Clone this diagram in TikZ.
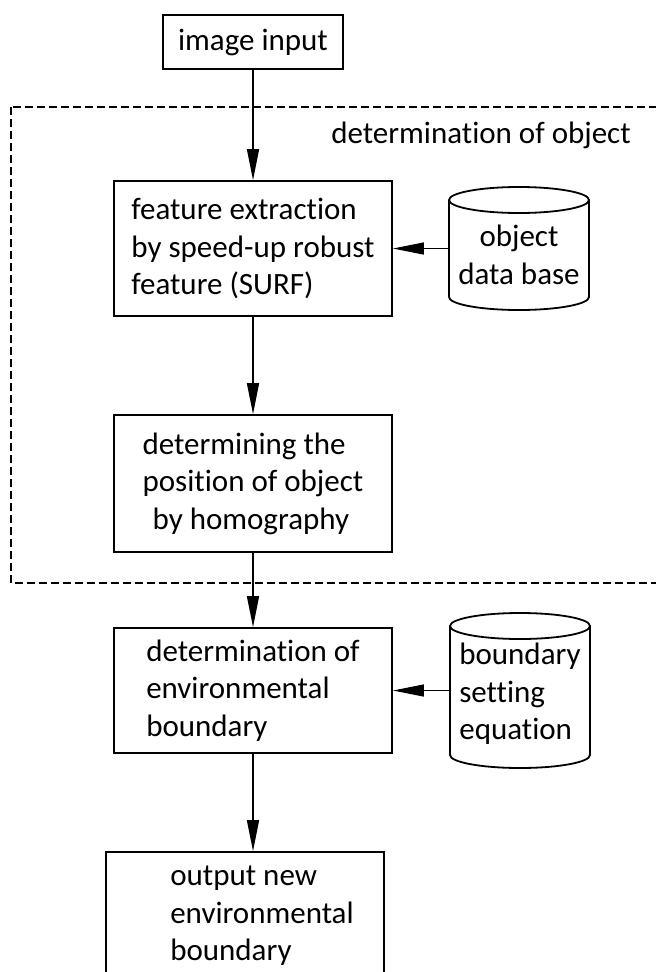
\documentclass[tikz,border=0pt]{standalone}
\usepackage{fontspec}
\setmainfont{Carlito}[Ligatures={NoCommon,NoRare,NoContextual}]
\usetikzlibrary{arrows.meta}
\begin{document}
\begin{tikzpicture}[x=1pt,y=-1pt,
  box/.style={draw,line width=1.8pt,inner sep=0pt},
  txt/.style={font=\fontsize{31}{37.5}\selectfont,align=left,inner sep=0pt},
  arr/.style={line width=1.3pt,-{Triangle[length=31pt,width=12pt]}},
  grp/.style={line width=1.5pt,dash pattern=on 8pt off 4pt},
  cyl/.style={line width=1.8pt}]
\path[use as bounding box,clip] (0,0) rectangle (656,972);
\fill[white] (0,0) rectangle (656,972);
% dashed group
\draw[grp] (11,107) rectangle (680,583);
\node[txt,anchor=base east] (grplabel) at (631,143) {determination of object};
% boxes
\node[box,minimum width=180pt,minimum height=54pt,txt] (img) at (253,42) {image input};
\node[box,minimum width=278pt,minimum height=135pt,txt] (feat) at (253,248.5)
  {feature extraction\\by speed-up robust\\feature (SURF)};
\node[box,minimum width=278pt,minimum height=137pt,txt] (pos) at (253,483.5)
  {determining the\\position of object\\\hspace*{10pt}by homography};
\node[box,minimum width=278pt,minimum height=125pt,txt] (env) at (253,690.5)
  {determination of\\environmental\\boundary};
\node[box,minimum width=278pt,minimum height=150pt] (out) at (245,927) {};
\node[txt] (outtxt) at (262,916) {output new\\environmental\\boundary};
% databases
\node[txt,align=center,minimum width=140pt,minimum height=100pt] (db1) at (519,255)
  {object\\data base};
\draw[cyl] (449,200) -- (449,297) arc[start angle=180,end angle=360,x radius=70pt,y radius=13pt] -- (589,200);
\draw[cyl] (519,200) ellipse[x radius=70pt,y radius=13pt];
\node[txt,minimum width=140pt,minimum height=120pt] (db2) at (520,694)
  {boundary\\setting\\equation};
\draw[cyl] (450,626) -- (450,755) arc[start angle=180,end angle=360,x radius=70pt,y radius=13pt] -- (590,626);
\draw[cyl] (520,626) ellipse[x radius=70pt,y radius=13pt];
% connectors
\draw[arr] (img.south) -- (feat.north);
\draw[arr] (db1.west |- feat.east) -- (feat.east);
\draw[arr] (feat.south) -- (pos.north);
\draw[arr] (pos.south) -- (env.north);
\draw[arr] (db2.west |- env.east) -- (env.east);
\draw[arr] (env.south) -- (env.south |- out.north);
\end{tikzpicture}
\end{document}
